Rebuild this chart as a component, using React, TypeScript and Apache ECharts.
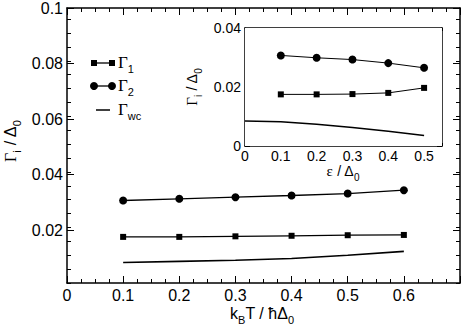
import React, { useEffect, useRef } from "react";
import * as echarts from "echarts";

// ---------- data ----------
const kT = [0.1, 0.2, 0.3, 0.4, 0.5, 0.6];
const gamma1Main = [0.0176, 0.0176, 0.0178, 0.018, 0.0182, 0.0183];
const gamma2Main = [0.0307, 0.0313, 0.0319, 0.0325, 0.0332, 0.0344];
const gammaWcMain = [0.0084, 0.0088, 0.0092, 0.0098, 0.011, 0.0124];

const eps = [0.1, 0.2, 0.3, 0.4, 0.5];
const gamma1Inset = [0.0175, 0.0175, 0.0176, 0.018, 0.0197];
const gamma2Inset = [0.0307, 0.0299, 0.0293, 0.0281, 0.0265];
const epsWc = [0, 0.1, 0.2, 0.3, 0.4, 0.5];
const gammaWcInset = [0.0085, 0.0082, 0.0074, 0.0063, 0.005, 0.0036];

// tick values
const mainXMajor = [0, 0.1, 0.2, 0.3, 0.4, 0.5, 0.6, 0.7];
const mainXLabels = ["0", "0.1", "0.2", "0.3", "0.4", "0.5", "0.6", ""];
const mainYMajor = [0.02, 0.04, 0.06, 0.08, 0.1];
const mainYLabels = ["0.02", "0.04", "0.06", "0.08", "0.1"];
const insetXMajor = [0, 0.1, 0.2, 0.3, 0.4, 0.5];
const insetXLabels = ["0", "0.1", "0.2", "0.3", "0.4", "0.5"];
const insetYMajor = [0, 0.02, 0.04];
const insetYLabels = ["0", "0.02", "0.04"];

const SANS = "'Liberation Sans', Arial, Helvetica, sans-serif";
const SERIF = "'Liberation Serif', 'Times New Roman', serif";

function minorsBetween(majors: number[], step: number, lo: number, hi: number) {
  const out: number[] = [];
  const n = Math.round((hi - lo) / step);
  for (let i = 0; i <= n; i++) {
    const v = +(lo + i * step).toFixed(6);
    if (v <= lo - 1e-9 || v >= hi + 1e-9) continue;
    if (majors.some((m) => Math.abs(m - v) < 1e-9)) continue;
    out.push(v);
  }
  return out;
}

function tickAxis(o: {
  grid: number;
  min: number;
  max: number;
  position: string;
  ticks: number[];
  len: number;
  line: boolean;
  labels?: { values: number[]; texts: string[]; fontSize: number; margin: number };
}) {
  const lab = o.labels;
  return {
    type: "value",
    gridIndex: o.grid,
    min: o.min,
    max: o.max,
    position: o.position,
    axisLine: { show: o.line, onZero: false, lineStyle: { color: "#000", width: 1.5 } },
    axisTick: {
      show: true,
      inside: true,
      length: o.len,
      customValues: o.ticks,
      lineStyle: { color: "#000", width: 1 },
    },
    minorTick: { show: false },
    splitLine: { show: false },
    axisLabel: lab
      ? {
          show: true,
          customValues: lab.values,
          formatter: (v: number) => {
            const i = lab.values.findIndex((x) => Math.abs(x - v) < 1e-9);
            return i >= 0 ? lab.texts[i] : "";
          },
          fontSize: lab.fontSize,
          fontFamily: SANS,
          color: "#000",
          margin: lab.margin,
          showMinLabel: true,
          showMaxLabel: true,
        }
      : { show: false },
  };
}

const rich = (g: number, s: number, t: number) => ({
  g: { fontFamily: SERIF, fontSize: g, lineHeight: g + 8, verticalAlign: "middle", fill: "#000", color: "#000" },
  s: { fontFamily: SANS, fontSize: s, lineHeight: s, verticalAlign: "bottom", color: "#000" },
  t: { fontFamily: SANS, fontSize: t, lineHeight: t + 8, verticalAlign: "middle", color: "#000" },
});

export default function App() {
  const ref = useRef<HTMLDivElement>(null);
  useEffect(() => {
    if (!ref.current) return;
    const chart = echarts.init(ref.current, null, { renderer: "svg" });

    const mainX = { min: 0, max: 0.7 };
    const mainY = { min: 0.001, max: 0.1 };
    const insX = { min: 0, max: 0.55 };
    const insY = { min: 0, max: 0.04 };

    const mainXMinor = minorsBetween(mainXMajor, 0.025, 0, 0.7);
    const mainYMinor = minorsBetween(mainYMajor, 0.005, 0.001, 0.1);
    const insXMinor = minorsBetween(insetXMajor, 0.05, 0, 0.55);
    const insYMinor = minorsBetween(insetYMajor, 0.01, 0, 0.04);

    const xAxis = [
      tickAxis({ grid: 0, ...mainX, position: "bottom", ticks: mainXMajor, len: 7, line: true,
        labels: { values: mainXMajor, texts: mainXLabels, fontSize: 16, margin: 4 } }),
      tickAxis({ grid: 0, ...mainX, position: "bottom", ticks: mainXMinor, len: 4, line: false }),
      tickAxis({ grid: 0, ...mainX, position: "top", ticks: mainXMajor, len: 7, line: true }),
      tickAxis({ grid: 0, ...mainX, position: "top", ticks: mainXMinor, len: 4, line: false }),
      tickAxis({ grid: 1, ...insX, position: "bottom", ticks: insetXMajor, len: 5, line: true,
        labels: { values: insetXMajor, texts: insetXLabels, fontSize: 14, margin: 3 } }),
      tickAxis({ grid: 1, ...insX, position: "bottom", ticks: insXMinor, len: 3, line: false }),
      tickAxis({ grid: 1, ...insX, position: "top", ticks: insetXMajor, len: 5, line: true }),
      tickAxis({ grid: 1, ...insX, position: "top", ticks: insXMinor, len: 3, line: false }),
    ];
    const yAxis = [
      tickAxis({ grid: 0, ...mainY, position: "left", ticks: mainYMajor, len: 7, line: true,
        labels: { values: mainYMajor, texts: mainYLabels, fontSize: 16, margin: 4 } }),
      tickAxis({ grid: 0, ...mainY, position: "left", ticks: mainYMinor, len: 4, line: false }),
      tickAxis({ grid: 0, ...mainY, position: "right", ticks: mainYMajor, len: 7, line: true }),
      tickAxis({ grid: 0, ...mainY, position: "right", ticks: mainYMinor, len: 4, line: false }),
      tickAxis({ grid: 1, ...insY, position: "left", ticks: insetYMajor, len: 5, line: true,
        labels: { values: insetYMajor, texts: insetYLabels, fontSize: 14, margin: 4 } }),
      tickAxis({ grid: 1, ...insY, position: "left", ticks: insYMinor, len: 3, line: false }),
      tickAxis({ grid: 1, ...insY, position: "right", ticks: insetYMajor, len: 5, line: true }),
      tickAxis({ grid: 1, ...insY, position: "right", ticks: insYMinor, len: 3, line: false }),
    ];

    const lineSeries = (
      name: string, xs: number[], ys: number[], xi: number, yi: number,
      symbol: string, size: number, width: number
    ) => ({
      name,
      type: "line",
      xAxisIndex: xi,
      yAxisIndex: yi,
      data: xs.map((x, i) => [x, ys[i]]),
      symbol,
      symbolSize: size,
      showSymbol: symbol !== "none",
      lineStyle: { color: "#000", width },
      itemStyle: { color: "#000", borderWidth: 0 },
      z: 3,
    });

    const R = rich(16, 11, 16);
    const RL = rich(17, 11, 16);
    const RI = rich(15, 10, 14);

    const legendRow = (y: number, kind: string, sub: string) => {
      const els: any[] = [];
      if (kind === "line") {
        els.push({ type: "line", shape: { x1: 96, y1: y, x2: 110, y2: y }, style: { stroke: "#000", lineWidth: 1.5 } });
      } else {
        els.push({ type: "line", shape: { x1: 94, y1: y, x2: 112, y2: y }, style: { stroke: "#000", lineWidth: 1.3 } });
        for (const cx of [94, 112]) {
          if (kind === "rect")
            els.push({ type: "rect", shape: { x: cx - 3, y: y - 3, width: 6, height: 6 }, style: { fill: "#000" } });
          else els.push({ type: "circle", shape: { cx, cy: y, r: 4 }, style: { fill: "#000" } });
        }
      }
      els.push({
        type: "text",
        x: 118,
        y: y - 1,
        style: { text: `{g|Γ}{s|${sub}}`, rich: RL, textAlign: "left", textVerticalAlign: "middle" },
      });
      return els;
    };

    chart.setOption({
      animation: false,
      backgroundColor: "#fff",
      grid: [
        { left: 67, top: 8, width: 395, height: 275, containLabel: false },
        { left: 245, top: 28, width: 197, height: 118, containLabel: false, show: true, backgroundColor: "#fff", borderWidth: 0, z: 1 },
      ],
      xAxis,
      yAxis,
      series: [
        lineSeries("Γ1", kT, gamma1Main, 0, 0, "rect", 6, 1.3),
        lineSeries("Γ2", kT, gamma2Main, 0, 0, "circle", 8, 1.3),
        lineSeries("Γwc", kT, gammaWcMain, 0, 0, "none", 0, 1.6),
        lineSeries("Γ1 inset", eps, gamma1Inset, 4, 4, "rect", 6, 1),
        lineSeries("Γ2 inset", eps, gamma2Inset, 4, 4, "circle", 8, 1),
        lineSeries("Γwc inset", epsWc, gammaWcInset, 4, 4, "none", 0, 1.5),
      ],
      graphic: [
        ...legendRow(63, "rect", "1"),
        ...legendRow(86, "circle", "2"),
        ...legendRow(110, "line", "wc"),
        {
          type: "text", x: 262, y: 313,
          style: { text: "{t|k}{s|B}{t|T / ħΔ}{s|0}", rich: R, textAlign: "center", textVerticalAlign: "middle" },
        },
        {
          type: "text", x: 10, y: 141, rotation: Math.PI / 2,
          style: { text: "{g|Γ}{s|i}{t| / Δ}{s|0}", rich: R, textAlign: "center", textVerticalAlign: "middle" },
        },
        {
          type: "text", x: 343, y: 171,
          style: { text: "{g|ε}{t| / Δ}{s|0}", rich: RI, textAlign: "center", textVerticalAlign: "middle" },
        },
        {
          type: "text", x: 192, y: 87, rotation: Math.PI / 2,
          style: { text: "{g|Γ}{s|i}{t| / Δ}{s|0}", rich: RI, textAlign: "center", textVerticalAlign: "middle" },
        },
      ],
    });
    return () => chart.dispose();
  }, []);
  return (
    <div
      ref={ref}
      style={{ position: "fixed", left: 0, top: 0, width: 463, height: 329, background: "#fff" }}
    />
  );
}
